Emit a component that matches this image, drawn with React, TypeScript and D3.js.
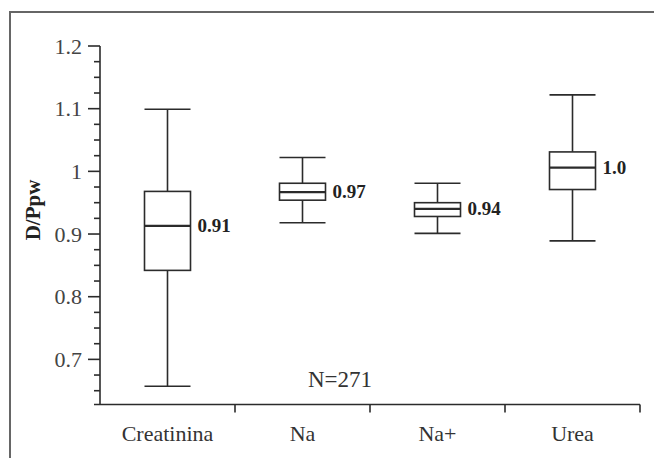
import * as d3 from 'd3';

const categories = ['Creatinina', 'Na', 'Na+', 'Urea'];
const whiskerLow = [0.657, 0.918, 0.901, 0.889];
const q1 = [0.842, 0.954, 0.928, 0.971];
const medians = [0.913, 0.967, 0.94, 1.006];
const q3 = [0.968, 0.981, 0.95, 1.031];
const whiskerHigh = [1.099, 1.022, 0.981, 1.122];
const medianLabels = ['0.91', '0.97', '0.94', '1.0'];
const yTicks = [0.7, 0.8, 0.9, 1, 1.1, 1.2];
const yTitle = 'D/Ppw';
const sampleNote = 'N=271';

const W = 654;
const H = 458;
const FONT = "'Liberation Serif', 'Times New Roman', serif";
const INK = '#2b2b2b';

const App = () => {
  const x = d3.scaleBand<string>().domain(categories).range([100, 640]).padding(0);
  const y = d3.scaleLinear().domain([0.628, 1.2]).range([404.5, 46]);
  const fmt = d3.format('~g');
  const boxW = 46;

  // minor ticks every 0.025, skipping the labelled ones
  const minor = d3.range(26, 49).filter((i) => i % 4 !== 0).map((i) => i * 0.025);
  const bounds = categories.map((c) => (x(c) ?? 0) + x.bandwidth());

  return (
    <svg
      width={W}
      height={H}
      style={{ position: 'absolute', left: 0, top: 0, background: '#fff' }}
      fontFamily={FONT}
    >
      {/* frame (left + top only visible) */}
      <path d={`M10,${H} V12 H${W}`} fill="none" stroke="#666" strokeWidth={2} />

      {/* y axis */}
      <line x1={100} x2={100} y1={y(1.2)} y2={y.range()[0]} stroke={INK} strokeWidth={1.6} />
      {yTicks.map((t) => (
        <g key={t}>
          <line x1={88} x2={100} y1={y(t)} y2={y(t)} stroke={INK} strokeWidth={1.6} />
          <text x={82} y={y(t)} dy="0.35em" textAnchor="end" fontSize={22} fill="#444">
            {fmt(t)}
          </text>
        </g>
      ))}
      {minor.map((t) => (
        <line key={t} x1={94} x2={100} y1={y(t)} y2={y(t)} stroke={INK} strokeWidth={1.6} />
      ))}
      <text
        transform={`translate(40,210) rotate(-90)`}
        textAnchor="middle"
        fontSize={21}
        fontWeight="bold"
        fill="#222"
      >
        {yTitle}
      </text>

      {/* x axis */}
      <line x1={94} x2={640} y1={y.range()[0]} y2={y.range()[0]} stroke={INK} strokeWidth={1.6} />
      {bounds.map((b) => (
        <line key={b} x1={b} x2={b} y1={y.range()[0]} y2={y.range()[0] + 8} stroke={INK} strokeWidth={1.6} />
      ))}
      {categories.map((c) => (
        <text
          key={c}
          x={(x(c) ?? 0) + x.bandwidth() / 2}
          y={441}
          textAnchor="middle"
          fontSize={22}
          fill="#333"
        >
          {c}
        </text>
      ))}

      {/* boxes */}
      {categories.map((c, i) => {
        const cx = (x(c) ?? 0) + x.bandwidth() / 2;
        const l = cx - boxW / 2;
        const r = cx + boxW / 2;
        return (
          <g key={c} stroke={INK} fill="none" strokeWidth={1.6}>
            <line x1={cx} x2={cx} y1={y(whiskerHigh[i])} y2={y(q3[i])} />
            <line x1={cx} x2={cx} y1={y(q1[i])} y2={y(whiskerLow[i])} />
            <line x1={l} x2={r} y1={y(whiskerHigh[i])} y2={y(whiskerHigh[i])} />
            <line x1={l} x2={r} y1={y(whiskerLow[i])} y2={y(whiskerLow[i])} />
            <rect x={l} y={y(q3[i])} width={boxW} height={y(q1[i]) - y(q3[i])} fill="#fff" />
            <line x1={l} x2={r} y1={y(medians[i])} y2={y(medians[i])} strokeWidth={2.2} />
            <text
              x={r + 7}
              y={y(medians[i])}
              dy="0.33em"
              stroke="none"
              fill="#222"
              fontSize={19}
              fontWeight="bold"
            >
              {medianLabels[i]}
            </text>
          </g>
        );
      })}

      <text x={340} y={387} textAnchor="middle" fontSize={23} fill="#333">
        {sampleNote}
      </text>
    </svg>
  );
};

export default App;
